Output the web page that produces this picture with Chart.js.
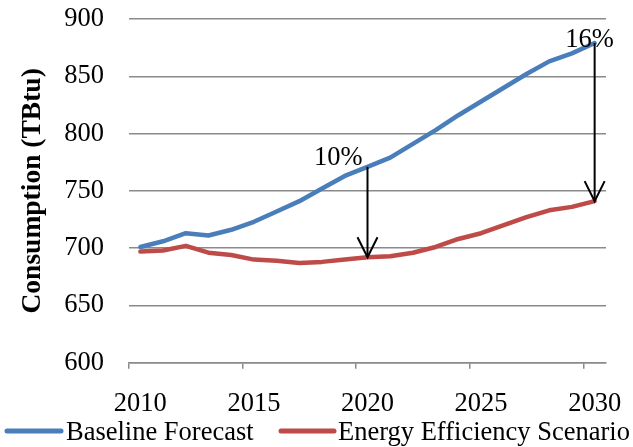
<!DOCTYPE html>
<html>
<head>
<meta charset="utf-8">
<script src="https://cdn.jsdelivr.net/npm/chart.js@4/dist/chart.umd.min.js"></script>
<style>
  html, body { margin: 0; padding: 0; background: #ffffff; }
  #wrap { width: 633px; height: 447px; position: relative; }
</style>
</head>
<body>
<div id="wrap"><canvas id="chart" width="633" height="447"></canvas></div>
<script>
// Annual consumption, TBtu
const years = ['2010', '2011', '2012', '2013', '2014', '2015', '2016', '2017', '2018', '2019', '2020',
               '2021', '2022', '2023', '2024', '2025', '2026', '2027', '2028', '2029', '2030'];
const baselineForecast = [701, 706, 713, 711, 716, 723, 732, 741, 752, 763, 771,
                          779, 791, 803, 816, 828, 840, 852, 863, 870, 879];
const efficiencyScenario = [697, 698, 702, 696, 694, 690, 689, 687, 688, 690, 692,
                            693, 696, 701, 708, 713, 720, 727, 733, 736, 741];
const yTickValues = [600, 650, 700, 750, 800, 850, 900];
const savingsYears = ['2020', '2030'];
const savingsLabels = ['10%', '16%'];

const SERIF = '"Liberation Serif", "Times New Roman", serif';
const FONT_SIZE = 26.5;
const GRID = '#8a8a8a';

// Draws the savings arrows from the baseline down to the scenario line
const savingsArrows = {
  id: 'savingsArrows',
  afterDatasetsDraw(chart) {
    const { ctx, scales: { x, y } } = chart;
    ctx.save();
    ctx.strokeStyle = '#000000';
    ctx.fillStyle = '#000000';
    ctx.lineWidth = 2;
    ctx.font = FONT_SIZE + 'px ' + SERIF;
    savingsYears.forEach((yr, i) => {
      const idx = years.indexOf(yr);
      const px = x.getPixelForValue(idx);
      const yTop = y.getPixelForValue(baselineForecast[idx]);
      const yBot = y.getPixelForValue(efficiencyScenario[idx]);
      ctx.beginPath();
      ctx.moveTo(px, yTop);
      ctx.lineTo(px, yBot);
      ctx.stroke();
      ctx.beginPath();
      ctx.moveTo(px - 10, yBot - 20);
      ctx.lineTo(px, yBot);
      ctx.lineTo(px + 10, yBot - 20);
      ctx.stroke();
      ctx.textBaseline = 'alphabetic';
      if (i === 0) {
        ctx.textAlign = 'right';
        ctx.fillText(savingsLabels[i], px - 5, yTop - 2);
      } else {
        ctx.textAlign = 'center';
        ctx.fillText(savingsLabels[i], px - 5, yTop + 4);
      }
    });
    ctx.restore();
  }
};

// Bottom legend: a short line sample followed by the series name
const lineLegend = {
  id: 'lineLegend',
  afterDraw(chart) {
    const { ctx } = chart;
    const slots = [
      { lineFrom: 7, lineTo: 61, textX: 66 },
      { lineFrom: 281, lineTo: 334, textX: 338 }
    ];
    const rowY = 432;
    ctx.save();
    ctx.font = FONT_SIZE + 'px ' + SERIF;
    ctx.textAlign = 'left';
    ctx.textBaseline = 'middle';
    chart.data.datasets.forEach((ds, i) => {
      const s = slots[i];
      ctx.strokeStyle = ds.borderColor;
      ctx.lineWidth = 5;
      ctx.lineCap = 'round';
      ctx.beginPath();
      ctx.moveTo(s.lineFrom, rowY - 1);
      ctx.lineTo(s.lineTo, rowY - 1);
      ctx.stroke();
      ctx.fillStyle = '#000000';
      ctx.fillText(ds.label, s.textX, rowY + 1);
    });
    ctx.restore();
  }
};

new Chart(document.getElementById('chart'), {
  type: 'line',
  data: {
    labels: years,
    datasets: [
      {
        label: 'Baseline Forecast',
        data: baselineForecast,
        borderColor: '#4A7EBB',
        backgroundColor: '#4A7EBB',
        borderWidth: 4.5,
        pointRadius: 0,
        tension: 0,
        borderCapStyle: 'round',
        borderJoinStyle: 'round'
      },
      {
        label: 'Energy Efficiency Scenario',
        data: efficiencyScenario,
        borderColor: '#BE4B48',
        backgroundColor: '#BE4B48',
        borderWidth: 4.5,
        pointRadius: 0,
        tension: 0,
        borderCapStyle: 'round',
        borderJoinStyle: 'round'
      }
    ]
  },
  options: {
    responsive: false,
    animation: false,
    events: [],
    layout: { padding: { left: 0, right: 27, top: 19, bottom: 0 } },
    plugins: {
      tooltip: { enabled: false },
      legend: { display: false }
    },
    scales: {
      x: {
        type: 'category',
        offset: true,
        afterFit(scale) {
          scale.height = 84.3;
          scale.paddingLeft = 0;
          scale.paddingRight = 0;
        },
        grid: {
          offset: true,
          drawOnChartArea: false,
          drawTicks: true,
          tickLength: 6,
          lineWidth: 1.5,
          color: ctx => (ctx.index % 5 === 0 ? GRID : 'rgba(0,0,0,0)')
        },
        border: { display: true, color: GRID, width: 1.5 },
        ticks: {
          autoSkip: false,
          maxRotation: 0,
          minRotation: 0,
          padding: 19,
          color: '#000000',
          font: { family: SERIF, size: FONT_SIZE },
          callback(value, index) {
            return index % 5 === 0 ? this.getLabelForValue(value) : '';
          }
        }
      },
      y: {
        min: yTickValues[0],
        max: yTickValues[yTickValues.length - 1],
        afterFit(scale) {
          scale.width = 129;
          scale.paddingTop = 0;
          scale.paddingBottom = 0;
        },
        grid: { color: GRID, lineWidth: 1.5, drawTicks: false },
        border: { display: false },
        ticks: {
          stepSize: yTickValues[1] - yTickValues[0],
          padding: 25,
          color: '#000000',
          font: { family: SERIF, size: FONT_SIZE }
        },
        title: {
          display: true,
          text: 'Consumption (TBtu)',
          color: '#000000',
          font: { family: SERIF, size: 27.5, weight: 'bold' },
          padding: { top: 16, bottom: 0 }
        }
      }
    }
  },
  plugins: [savingsArrows, lineLegend]
});
</script>
</body>
</html>
